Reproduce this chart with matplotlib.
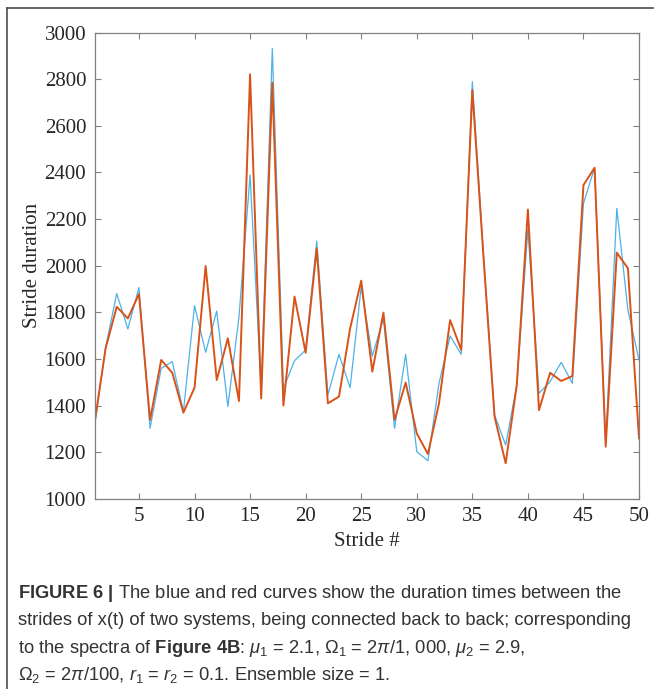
import numpy as np
from matplotlib import pyplot as plt
from matplotlib.lines import Line2D

# stride durations of the two coupled systems
stride = np.arange(1, 51)
blue_duration = [1310, 1650, 1881, 1729, 1907, 1303, 1560, 1589, 1374, 1829,
                 1629, 1806, 1396, 1780, 2389, 1470, 2931, 1474, 1593, 1639,
                 2106, 1446, 1620, 1477, 1910, 1613, 1774, 1303, 1620, 1203,
                 1164, 1496, 1699, 1620, 2789, 2050, 1360, 1231, 1489, 2156,
                 1453, 1503, 1586, 1496, 2267, 2420, 1240, 2246, 1810, 1596]
red_duration = [1324, 1646, 1824, 1774, 1879, 1339, 1596, 1541, 1370, 1477,
                1999, 1510, 1689, 1420, 2821, 1431, 2785, 1401, 1868, 1627,
                2074, 1410, 1439, 1731, 1936, 1546, 1799, 1339, 1499, 1281,
                1193, 1410, 1767, 1639, 2753, 2040, 1353, 1153, 1489, 2241,
                1381, 1541, 1506, 1527, 2346, 2420, 1224, 2056, 1989, 1260]
x_ticks = [5, 10, 15, 20, 25, 30, 35, 40, 45, 50]
y_ticks = list(range(1000, 3001, 200))

plt.rcParams['mathtext.fontset'] = 'custom'
plt.rcParams['mathtext.rm'] = 'Liberation Sans'
plt.rcParams['mathtext.it'] = 'Liberation Sans:italic'
plt.rcParams['mathtext.bf'] = 'Liberation Sans:bold'

fig = plt.figure(figsize=(6.54, 6.89), dpi=100)
ax = fig.add_axes([0.1445, 0.2758, 0.8326, 0.677])

ax.plot(stride, blue_duration, color='#4DB2E8', lw=0.9)
ax.plot(stride, red_duration, color='#D95319', lw=1.4)

ax.set_xlim(1, 50)
ax.set_ylim(1000, 3000)
ax.set_xticks(x_ticks)
ax.set_yticks(y_ticks)
ax.tick_params(direction='in', top=True, right=True, length=4, width=0.8,
               color='#808080', labelsize=15, labelcolor='#262626', pad=6)
for lab in ax.get_xticklabels() + ax.get_yticklabels():
    lab.set_family('Liberation Serif')
for sp in ax.spines.values():
    sp.set_color('#808080')
    sp.set_linewidth(0.9)

ax.set_xlabel('Stride #', family='Liberation Serif', fontsize=15, color='#262626', labelpad=4)
ax.set_ylabel('Stride duration', family='Liberation Serif', fontsize=15, color='#262626', labelpad=2)

# frame around the figure panel (top and left edges)
fig.add_artist(Line2D([7 / 654, 1], [1 - 8 / 689, 1 - 8 / 689], color='#4d4d4d', lw=1.2))
fig.add_artist(Line2D([7 / 654, 7 / 654], [0, 1 - 8 / 689], color='#4d4d4d', lw=1.2))

# caption
caption = [
    r'$\mathbf{FIGURE\ 6\ |}$ The blue and red curves show the duration times between the',
    'strides of x(t) of two systems, being connected back to back; corresponding',
    r'to the spectra of $\mathbf{Figure\ 4B}$: $\mu_1$ = 2.1, $\Omega_1$ = 2$\pi$/1, 000, $\mu_2$ = 2.9,',
    r'$\Omega_2$ = 2$\pi$/100, $r_1$ = $r_2$ = 0.1. Ensemble size = 1.',
]
baselines = [598, 625, 653, 680]
for line, yb in zip(caption, baselines):
    fig.text(18 / 654, 1 - yb / 689, line, family='Liberation Sans', fontsize=13.2,
             color='#333333', va='baseline', ha='left')

fig.savefig('out.png', dpi=100)
